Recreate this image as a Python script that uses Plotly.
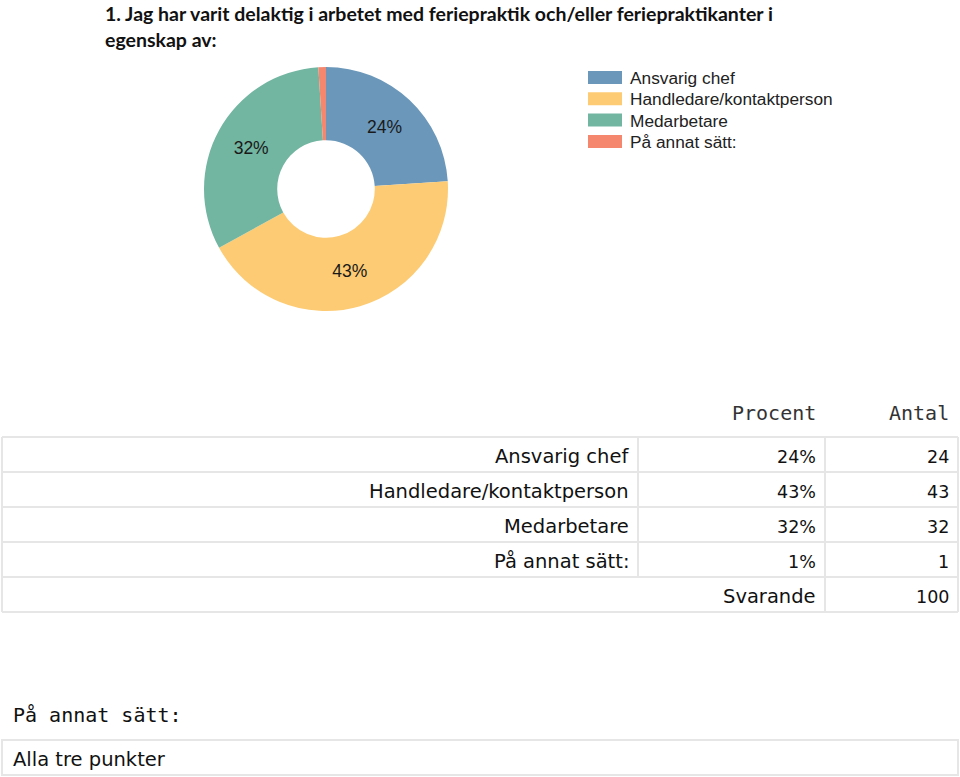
import plotly.graph_objects as go

# ---- data ----
categories = ["Ansvarig chef", "Handledare/kontaktperson", "Medarbetare", "På annat sätt:"]
counts = [24, 43, 32, 1]
colors = ["#6b98ba", "#fdcb73", "#72b5a1", "#f5876e"]
title_lines = ["1. Jag har varit delaktig i arbetet med feriepraktik och/eller feriepraktikanter i",
               "egenskap av:"]
header_labels = ["Procent", "Antal"]
total_label = "Svarande"
other_title = "På annat sätt:"
other_answers = ["Alla tre punkter"]

W, H = 960, 777
def X(px):
    return px / W
def Y(py):
    return 1 - py / H

total = sum(counts)
pct_labels = [f"{round(c / total * 100)}%" for c in counts]

fig = go.Figure()

# ---- donut ----
fig.add_trace(go.Pie(
    values=counts, labels=categories, hole=0.40, sort=False,
    direction="clockwise", rotation=0,
    marker=dict(colors=colors, line=dict(width=0)),
    texttemplate="%{percent:.0%}",
    textposition=["inside" if c / total >= 0.05 else "none" for c in counts],
    insidetextorientation="horizontal",
    textfont=dict(family="Liberation Sans, Arial", size=17.5, color="#1a1a1a"),
    domain=dict(x=[X(204), X(448)], y=[Y(311), Y(67)]),
    showlegend=False, hoverinfo="label+value+percent",
))

ann = []
shapes = []

# ---- title ----
for i, line in enumerate(title_lines):
    ann.append(dict(x=X(103), y=Y(13 + i * 26), xref="paper", yref="paper",
                    text=f"<b>{line}</b>", showarrow=False, xanchor="left", yanchor="middle",
                    font=dict(family="Lato, Open Sans", size=19.5, color="#111")))

# ---- custom legend ----
for i, (cat, col) in enumerate(zip(categories, colors)):
    cy = 77.5 + i * 21.3
    shapes.append(dict(type="rect", xref="paper", yref="paper",
                       x0=X(588), x1=X(622), y0=Y(cy + 6.5), y1=Y(cy - 6.5),
                       fillcolor=col, line=dict(width=0)))
    ann.append(dict(x=X(628), y=Y(cy + 0.5), xref="paper", yref="paper", text=cat,
                    showarrow=False, xanchor="left", yanchor="middle",
                    font=dict(family="Liberation Sans, Arial", size=17.3, color="#222")))

# ---- table ----
grid = "#e6e6e6"
mono = "DejaVu Sans Mono, monospace"
sans = "DejaVu Sans, Verdana"
cols = [2, 638, 825, 958]
row_top, row_h = 437, 35
nrows = len(categories) + 1
pad = 7

for j, h in enumerate(header_labels):
    ann.append(dict(x=X(cols[j + 2] - pad), y=Y(412.5), xref="paper", yref="paper", text=h,
                    showarrow=False, xanchor="right", yanchor="middle",
                    font=dict(family=mono, size=20, color="#333")))

for r in range(nrows + 1):
    y = row_top + r * row_h
    shapes.append(dict(type="line", xref="paper", yref="paper", x0=X(cols[0]), x1=X(cols[-1]),
                       y0=Y(y), y1=Y(y), line=dict(color=grid, width=2)))
for r in range(nrows):
    y0, y1 = row_top + r * row_h, row_top + (r + 1) * row_h
    inner = [cols[0], cols[2], cols[3]] if r == nrows - 1 else cols
    for cx in inner:
        shapes.append(dict(type="line", xref="paper", yref="paper", x0=X(cx), x1=X(cx),
                           y0=Y(y0), y1=Y(y1), line=dict(color=grid, width=2)))

rows = [(cat, p, str(c)) for cat, p, c in zip(categories, pct_labels, counts)]
rows.append(("", total_label, str(total)))
for r, row in enumerate(rows):
    cy = row_top + r * row_h + row_h / 2 + 2
    for j, txt in enumerate(row):
        if not txt:
            continue
        is_num = txt.replace("%", "").isdigit()
        ann.append(dict(x=X(cols[j + 1] - pad), y=Y(cy), xref="paper", yref="paper", text=txt,
                        showarrow=False, xanchor="right", yanchor="middle",
                        font=dict(family=sans, size=17.5 if is_num else 19.5, color="#111")))

# ---- free-text answers ----
ann.append(dict(x=X(11), y=Y(715), xref="paper", yref="paper", text=other_title,
                showarrow=False, xanchor="left", yanchor="middle",
                font=dict(family=mono, size=20, color="#111")))
for k, a in enumerate(other_answers):
    y0 = 740 + k * 35
    shapes.append(dict(type="rect", xref="paper", yref="paper", x0=X(2), x1=X(958),
                       y0=Y(y0 + 35), y1=Y(y0), line=dict(color=grid, width=2),
                       fillcolor="rgba(0,0,0,0)"))
    ann.append(dict(x=X(11), y=Y(y0 + 19), xref="paper", yref="paper", text=a,
                    showarrow=False, xanchor="left", yanchor="middle",
                    font=dict(family=sans, size=19.5, color="#111")))

fig.update_layout(width=W, height=H, margin=dict(l=0, r=0, t=0, b=0),
                  paper_bgcolor="white", plot_bgcolor="white",
                  annotations=ann, shapes=shapes)
fig.write_html("out.html", config={"displayModeBar": False},
               post_script="document.body.style.margin='0';document.body.style.overflow='hidden';")
